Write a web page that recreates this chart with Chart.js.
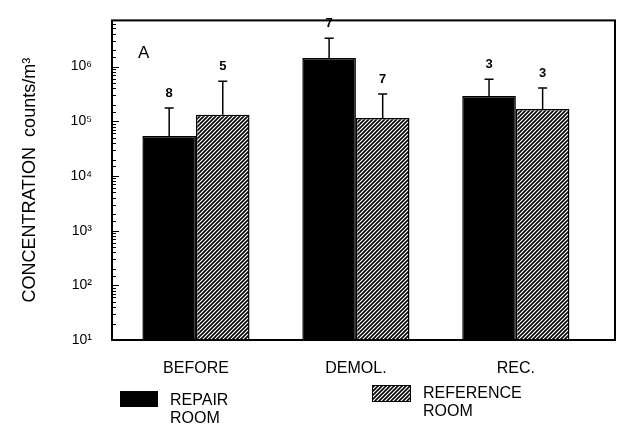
<!DOCTYPE html>
<html>
<head>
<meta charset="utf-8">
<script src="https://cdn.jsdelivr.net/npm/chart.js@4.4.1/dist/chart.umd.min.js"></script>
<style>
  html, body { margin: 0; padding: 0; background: #fff; }
  #wrap { width: 621px; height: 424px; position: relative; }
</style>
</head>
<body>
<div id="wrap"><canvas id="concChart" width="621" height="424"></canvas></div>
<script>
// donnees
const categories = ['BEFORE', 'DEMOL.', 'REC.'];
const repairRoom = [5.4e4, 1.43e6, 2.9e5];
const repairUpper = [1.75e5, 3.3e6, 5.9e5];
const repairN = [8, 7, 3];
const referenceRoom = [1.31e5, 1.15e5, 1.68e5];
const referenceUpper = [5.4e5, 3.15e5, 4.05e5];
const referenceN = [5, 7, 3];
const legendLabels = [['REPAIR', 'ROOM'], ['REFERENCE', 'ROOM']];

const supers = ['⁰', '¹', '²', '³', '⁴', '⁵', '⁶', '⁷', '⁸', '⁹'];
const fontFamily = '"Liberation Sans", Arial, sans-serif';

// motif hachure
function makeHatch() {
    const c = document.createElement('canvas');
    c.width = 4; c.height = 4;
    const g = c.getContext('2d');
    g.fillStyle = '#fff';
    g.fillRect(0, 0, 4, 4);
    g.strokeStyle = '#000';
    g.lineWidth = 1.6;
    g.beginPath();
    g.moveTo(0, 4); g.lineTo(4, 0);
    g.moveTo(-1, 1); g.lineTo(1, -1);
    g.moveTo(3, 5); g.lineTo(5, 3);
    g.stroke();
    return g.createPattern(c, 'repeat');
}
const hatch = makeHatch();

const ctx = document.getElementById('concChart').getContext('2d');

const extras = {
    id: 'extras',
    afterDatasetsDraw(chart) {
        const c = chart.ctx;
        const y = chart.scales.y;
        const uppers = [repairUpper, referenceUpper];
        const counts = [repairN, referenceN];
        c.save();
        c.strokeStyle = '#000';
        c.fillStyle = '#000';
        c.lineWidth = 1.5;
        c.font = 'bold 13px ' + fontFamily;
        c.textAlign = 'center';
        c.textBaseline = 'bottom';
        chart.data.datasets.forEach((ds, d) => {
            const meta = chart.getDatasetMeta(d);
            meta.data.forEach((bar, i) => {
                const top = y.getPixelForValue(uppers[d][i]);
                c.beginPath();
                c.moveTo(bar.x, bar.y);
                c.lineTo(bar.x, top);
                c.moveTo(bar.x - 4.5, top);
                c.lineTo(bar.x + 4.5, top);
                c.stroke();
                c.fillText(String(counts[d][i]), bar.x, top - 8);
            });
        });
        c.restore();
    },
    afterDraw(chart) {
        const c = chart.ctx;
        const a = chart.chartArea;
        const y = chart.scales.y;
        c.save();
        // ticks mineurs vers l'interieur
        c.strokeStyle = '#000';
        c.lineWidth = 1;
        y.ticks.forEach(t => {
            const e = Math.log10(t.value);
            const major = Math.abs(e - Math.round(e)) < 1e-9;
            const py = Math.round(y.getPixelForValue(t.value)) + 0.5;
            c.beginPath();
            c.moveTo(a.left, py);
            c.lineTo(a.left + (major ? 7 : 4), py);
            c.stroke();
        });
        // cadre
        c.lineWidth = 2;
        c.strokeRect(a.left, a.top, a.right - a.left, a.bottom - a.top);
        // lettre du panneau
        c.fillStyle = '#000';
        c.font = '17px ' + fontFamily;
        c.textAlign = 'left';
        c.textBaseline = 'middle';
        c.fillText('A', a.left + 26, 53);
        // legende
        c.font = '16px ' + fontFamily;
        c.fillRect(120, 391, 38, 16);
        c.fillText(legendLabels[0][0], 170, 401);
        c.fillText(legendLabels[0][1], 170, 419);
        c.fillStyle = hatch;
        c.fillRect(372, 385, 39, 17);
        c.lineWidth = 1;
        c.strokeRect(372.5, 385.5, 38, 16);
        c.fillStyle = '#000';
        c.fillText(legendLabels[1][0], 423, 394);
        c.fillText(legendLabels[1][1], 423, 412);
        c.restore();
    }
};

const concChart = new Chart(ctx, {
    type: 'bar',
    data: {
        datasets: [{
            label: 'REPAIR ROOM',
            data: repairRoom.map((v, i) => ({ x: i, y: v })),
            backgroundColor: '#000',
            borderColor: '#000',
            borderWidth: 1.5
        }, {
            label: 'REFERENCE ROOM',
            data: referenceRoom.map((v, i) => ({ x: i, y: v })),
            backgroundColor: hatch,
            borderColor: '#000',
            borderWidth: 1.5
        }]
    },
    options: {
        responsive: false,
        animation: false,
        events: [],
        categoryPercentage: 0.67,
        barPercentage: 1.0,
        layout: { padding: { left: 0, top: 15, right: 6, bottom: 0 } },
        plugins: {
            legend: { display: false },
            tooltip: { enabled: false }
        },
        scales: {
            x: {
                type: 'linear',
                offset: false,
                min: -0.525,
                max: 2.62,
                grid: { display: false },
                border: { display: false },
                ticks: {
                    stepSize: 1,
                    includeBounds: false,
                    autoSkip: false,
                    maxRotation: 0,
                    padding: 11,
                    color: '#000',
                    font: { family: fontFamily, size: 16 },
                    callback: v => Number.isInteger(v) && categories[v] ? categories[v] : ''
                },
                afterFit: s => { s.height = 84; }
            },
            y: {
                type: 'logarithmic',
                min: 10,
                max: 7e6,
                grid: { display: false },
                border: { display: false },
                ticks: {
                    autoSkip: false,
                    padding: 12,
                    color: '#000',
                    font: { family: fontFamily, size: 14 },
                    callback: v => {
                        const e = Math.log10(v);
                        const r = Math.round(e);
                        return Math.abs(e - r) < 1e-9 ? '10' + supers[r] : '';
                    }
                },
                title: {
                    display: true,
                    text: 'CONCENTRATION  counts/m³',
                    color: '#000',
                    font: { family: fontFamily, size: 18 },
                    padding: { top: 19, bottom: 0 }
                },
                afterFit: s => { s.width = 112; }
            }
        }
    },
    plugins: [extras]
});
</script>
</body>
</html>
